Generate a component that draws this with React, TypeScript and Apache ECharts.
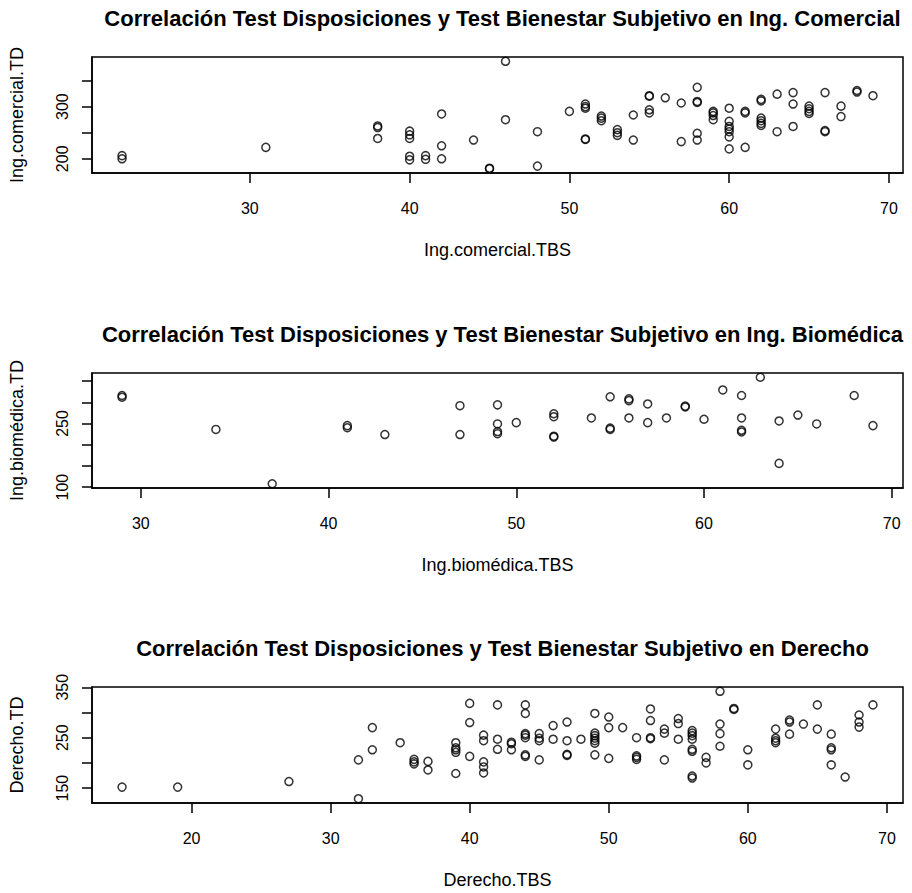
import React, { useEffect, useRef } from "react";
import * as echarts from "echarts";

// Ing. Comercial
const comercialTBS = [22,22,31,38,38,38,40,40,40,40,40,41,41,42,42,42,44,45,45,46,46,48,48,50,51,51,51,51,51,52,52,52,53,53,53,54,54,55,55,55,55,56,57,57,58,58,58,58,58,59,59,59,59,60,60,60,60,60,60,60,61,61,61,62,62,62,62,62,62,63,63,64,64,64,65,65,65,65,66,66,66,67,67,68,68,69];
const comercialTD = [206,200,222,263,260,239,253,246,239,205,198,206,199,286,225,200,236,182,181,387,275,252,186,291,305,300,297,238,237,282,278,273,256,250,245,284,236,321,320,294,288,317,307,233,337,310,308,249,236,291,288,283,275,297,272,262,257,252,242,219,291,288,222,314,311,278,273,268,264,324,252,327,305,262,301,296,291,287,327,254,252,301,281,331,328,321];

// Ing. Biomédica
const biomedicaTBS = [29,29,34,37,41,41,43,47,47,49,49,49,49,50,52,52,52,52,54,55,55,55,56,56,56,57,57,58,59,59,60,61,62,62,62,62,63,64,64,65,66,68,69];
const biomedicaTD = [316,312,236,108,245,240,224,292,224,294,249,231,226,252,273,266,220,218,263,313,239,236,308,304,263,296,252,263,291,289,260,329,316,263,234,230,359,256,156,270,249,316,245];

// Derecho
const derechoTBS = [15,19,27,32,32,33,33,35,36,36,36,37,37,39,39,39,39,39,40,40,40,41,41,41,41,41,42,42,42,43,43,43,44,44,44,44,44,44,44,45,45,45,45,46,46,47,47,47,47,48,49,49,49,49,49,49,49,50,50,50,51,52,52,52,52,53,53,53,53,54,54,54,55,55,55,56,56,56,56,56,56,56,56,57,57,58,58,58,58,59,59,60,60,62,62,62,62,63,63,63,64,65,65,66,66,66,66,67,68,68,68,69];
const derechoTD = [152,152,163,206,129,270,226,240,207,202,198,203,186,240,230,226,221,179,318,280,213,255,244,202,192,180,315,247,227,241,238,226,315,298,258,255,250,216,213,258,249,244,206,274,247,281,244,217,215,247,298,259,254,249,244,239,216,291,270,209,270,250,214,211,207,307,284,250,248,267,259,206,288,278,247,264,259,254,247,227,223,174,170,211,200,342,277,258,233,308,306,226,196,267,249,244,240,285,281,257,277,315,267,257,230,226,196,172,295,281,271,315];

// Titles and axis names
const titles = [
  "Correlación Test Disposiciones y Test Bienestar Subjetivo en Ing. Comercial",
  "Correlación Test Disposiciones y Test Bienestar Subjetivo en Ing. Biomédica",
  "Correlación Test Disposiciones y Test Bienestar Subjetivo en Derecho",
];
const xNames = ["Ing.comercial.TBS", "Ing.biomédica.TBS", "Derecho.TBS"];
const yNames = ["Ing.comercial.TD", "Ing.biomédica.TD", "Derecho.TD"];

// Ticks and tick labels
const xTicks1 = [30, 40, 50, 60, 70];
const xTicks2 = [30, 40, 50, 60, 70];
const xTicks3 = [20, 30, 40, 50, 60, 70];
const yTicks1 = [200, 250, 300, 350];
const yLabels1 = [200, 300];
const yTicks2 = [100, 150, 200, 250, 300, 350];
const yLabels2 = [100, 250];
const yTicks3 = [150, 200, 250, 300, 350];
const yLabels3 = [150, 250, 350];

const FONT = "'Liberation Sans', Arial, Helvetica, sans-serif";

function rRange(v: number[]): [number, number] {
  const lo = Math.min(...v);
  const hi = Math.max(...v);
  const d = (hi - lo) * 0.04;
  return [lo - d, hi + d];
}

const panels = [
  { x: comercialTBS, y: comercialTD, xt: xTicks1, yt: yTicks1, yl: yLabels1, top: 57, h: 116 },
  { x: biomedicaTBS, y: biomedicaTD, xt: xTicks2, yt: yTicks2, yl: yLabels2, top: 373, h: 115 },
  { x: derechoTBS, y: derechoTD, xt: xTicks3, yt: yTicks3, yl: yLabels3, top: 687, h: 116 },
];

const GRID_LEFT = 92;
const GRID_W = 811;

export default function App() {
  const ref = useRef<HTMLDivElement>(null);
  useEffect(() => {
    if (!ref.current) return;
    const chart = echarts.init(ref.current, undefined, { renderer: "svg" });
    const axisLine = { show: true, lineStyle: { color: "#000", width: 1.5 } };
    const option: any = {
      animation: false,
      backgroundColor: "#fff",
      title: panels.map((p, i) => ({
        text: titles[i],
        left: GRID_LEFT + GRID_W / 2,
        top: p.top - 55,
        textAlign: "center",
        textStyle: { fontFamily: FONT, fontSize: 22, fontWeight: "bold", color: "#000" },
      })),
      grid: panels.map((p) => ({
        left: GRID_LEFT,
        top: p.top,
        width: GRID_W,
        height: p.h,
        show: true,
        borderColor: "#000",
        borderWidth: 1.5,
        backgroundColor: "transparent",
        containLabel: false,
      })),
      xAxis: panels.map((p, i) => {
        const [mn, mx] = rRange(p.x);
        return {
          type: "value",
          gridIndex: i,
          min: mn,
          max: mx,
          name: xNames[i],
          nameLocation: "middle",
          nameGap: 68,
          nameTextStyle: { fontFamily: FONT, fontSize: 18, color: "#000" },
          axisLine: { ...axisLine, onZero: false },
          axisTick: { show: true, inside: false, length: 10, lineStyle: { color: "#000", width: 1.5 }, customValues: p.xt },
          axisLabel: { show: true, margin: 27, fontFamily: FONT, fontSize: 16, color: "#000", customValues: p.xt },
          splitLine: { show: false },
        };
      }),
      yAxis: panels.map((p, i) => {
        const [mn, mx] = rRange(p.y);
        return {
          type: "value",
          gridIndex: i,
          min: mn,
          max: mx,
          name: yNames[i],
          nameLocation: "middle",
          nameGap: 66,
          nameRotate: 90,
          nameTextStyle: { fontFamily: FONT, fontSize: 18, color: "#000" },
          axisLine: { ...axisLine, onZero: false },
          axisTick: { show: true, inside: false, length: 10, lineStyle: { color: "#000", width: 1.5 }, customValues: p.yt },
          axisLabel: { show: true, rotate: 90, margin: 22, fontFamily: FONT, fontSize: 16, color: "#000", customValues: p.yl },
          splitLine: { show: false },
        };
      }),
      series: panels.map((p, i) => ({
        type: "scatter",
        xAxisIndex: i,
        yAxisIndex: i,
        symbol: "circle",
        symbolSize: 8,
        itemStyle: { color: "rgba(0,0,0,0)", borderColor: "#000", borderWidth: 1.5 },
        emphasis: { disabled: true },
        data: p.x.map((v, k) => [v, p.y[k]]),
      })),
    };
    chart.setOption(option);
    return () => chart.dispose();
  }, []);
  return (
    <div
      ref={ref}
      style={{ position: "fixed", left: 0, top: 0, width: 912, height: 893, background: "#fff" }}
    />
  );
}
